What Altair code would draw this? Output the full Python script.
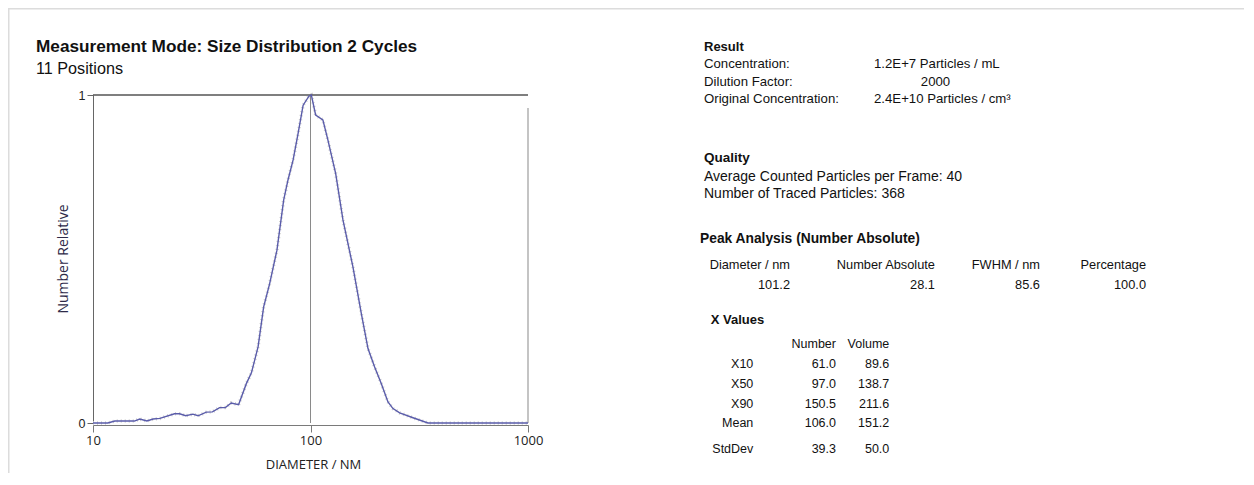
import altair as alt
import pandas as pd

# ---- data ----
diameter_nm = [10.0, 11.7, 12.6, 15.5, 16.4, 17.7, 18.9, 20.3, 23.7, 25.0, 26.7, 28.8, 30.4,
               33.2, 35.4, 38.2, 40.6, 43.2, 46.7, 50.7, 53.5, 57.4, 60.9, 64.9, 70.1, 75.3,
               78.8, 83.2, 87.7, 92.5, 98.5, 100.9, 105.6, 114.0, 120.2, 130.5, 141.0, 156.7,
               171.2, 183.8, 197.2, 211.7, 227.1, 239.5, 257.0, 296.0, 346.6, 1000.0]
number_relative = [0.0, 0.0, 0.006, 0.006, 0.012, 0.006, 0.012, 0.014, 0.028, 0.028, 0.022,
                   0.027, 0.022, 0.033, 0.034, 0.047, 0.047, 0.061, 0.056, 0.12, 0.153, 0.232,
                   0.354, 0.425, 0.527, 0.68, 0.741, 0.802, 0.883, 0.969, 0.997, 1.0, 0.939,
                   0.924, 0.863, 0.761, 0.619, 0.476, 0.334, 0.227, 0.171, 0.12, 0.064, 0.044,
                   0.031, 0.016, 0.0, 0.0]
x_ticks = [10, 100, 1000]
y_ticks = [0, 1]

title_text = "Measurement Mode: Size Distribution 2 Cycles"
subtitle_text = "11 Positions"
y_title = "Number Relative"
x_title = "DIAMETER / NM"

result_title = "Result"
result_labels = ["Concentration:", "Dilution Factor:", "Original Concentration:"]
result_values = ["1.2E+7 Particles / mL", "2000", "2.4E+10 Particles / cm³"]
quality_title = "Quality"
quality_lines = ["Average Counted Particles per Frame: 40", "Number of Traced Particles: 368"]
peak_title = "Peak Analysis (Number Absolute)"
peak_headers = ["Diameter / nm", "Number Absolute", "FWHM / nm", "Percentage"]
peak_values = ["101.2", "28.1", "85.6", "100.0"]
xv_title = "X Values"
xv_headers = ["Number", "Volume"]
xv_rows = ["X10", "X50", "X90", "Mean", "StdDev"]
xv_number = ["61.0", "97.0", "150.5", "106.0", "39.3"]
xv_volume = ["89.6", "138.7", "211.6", "151.2", "50.0"]

# ---- layout ----
W, H = 1236, 465
X0, X1 = 85, 520      # plot area x range (view px)
Y0, Y1 = 415, 87      # plot area y range (bottom, top)
SANS = "Liberation Sans"
AXF = "Open Sans"

df = pd.DataFrame({"d": diameter_nm, "v": number_relative})
base = alt.Chart(df)

xscale = alt.Scale(type="log", domain=[10, 1000], range=[X0, X1])
yscale = alt.Scale(domain=[0, 1], range=[Y0, Y1])

xenc = alt.X("d:Q", scale=xscale,
             axis=alt.Axis(values=x_ticks, format="d", offset=-(H - Y0 - 2), tickSize=7,
                           labelPadding=2, domainColor="#7a7a7a", tickColor="#7a7a7a",
                           labelFont=AXF, labelFontSize=13, labelColor="#222", title="",
                           grid=False, labelFlush=False))
yenc = alt.Y("v:Q", scale=yscale,
             axis=alt.Axis(values=y_ticks, format="d", offset=-X0, tickSize=6,
                           labelPadding=2, domainColor="#666", tickColor="#666",
                           labelFont=SANS, labelFontSize=12.5, labelColor="#222", title="",
                           grid=False, labelFlush=False))

halo = base.mark_line(color="#cfcfcf", strokeWidth=3.5, strokeDash=[1, 3]).encode(x=xenc, y=yenc)
line = base.mark_line(color="#5a5caa", strokeWidth=1.4).encode(x=xenc, y=yenc)

one = pd.DataFrame({"k": [0]})
ob = alt.Chart(one)
top_border = ob.mark_rule(color="#555", strokeWidth=1.5).encode(
    x=alt.datum(10), x2=alt.datum(1000), y=alt.datum(1))
mid_rule = ob.mark_rule(color="#8a8a8a", strokeWidth=1).encode(
    x=alt.datum(100), y=alt.datum(0), y2=alt.datum(1))
right_border = ob.mark_rule(color="#b0b0b0", strokeWidth=1.5).encode(
    x=alt.datum(1000), y=alt.datum(0), y2=alt.value(100))
frame_top = ob.mark_rule(color="#dcdcdc", strokeWidth=1.5).encode(
    x=alt.value(0), x2=alt.value(W), y=alt.value(0.75))
frame_left = ob.mark_rule(color="#dcdcdc", strokeWidth=1.5).encode(
    x=alt.value(0.75), y=alt.value(0), y2=alt.value(H))

layers = [frame_top, frame_left, halo, mid_rule, top_border, right_border, line]


def txt(s, x, y, size=11, weight="normal", align="left", font=SANS, color="#111", angle=0,
        baseline="alphabetic"):
    return alt.Chart(pd.DataFrame({"t": [s]})).mark_text(
        align=align, baseline=baseline, fontSize=size, fontWeight=weight, font=font,
        color=color, angle=angle).encode(x=alt.value(x), y=alt.value(y), text="t:N")


layers.append(txt(title_text, 28, 44, size=17.2, weight="bold"))
layers.append(txt(subtitle_text, 28, 66, size=16.2))
layers.append(txt(y_title, 55.5, (Y0 + Y1) / 2, size=14, font=AXF, color="#2e2a48",
                  angle=270, align="center", baseline="middle"))
layers.append(txt(x_title, 305.5, 457, size=13, font=AXF, color="#222", align="center",
                  baseline="middle"))

# Result block
layers.append(txt(result_title, 696, 43, size=13, weight="bold"))
for i, (lab, val) in enumerate(zip(result_labels, result_values)):
    y = 60 + i * 17.7
    layers.append(txt(lab, 696, y, size=13.2))
    if val == "2000":
        layers.append(txt(val, 927.5, y, size=13.2, align="center"))
    else:
        layers.append(txt(val, 866, y, size=13.2))

# Quality block
layers.append(txt(quality_title, 696, 154, size=13.5, weight="bold"))
for i, s in enumerate(quality_lines):
    layers.append(txt(s, 696, 172.7 + i * 17.6, size=14))

# Peak analysis
layers.append(txt(peak_title, 692, 235, size=13.8, weight="bold"))
peak_right = [782, 927, 1032, 1138]
for h, v, xr in zip(peak_headers, peak_values, peak_right):
    layers.append(txt(h, xr, 261, size=12.8, align="right"))
    layers.append(txt(v, xr, 281, size=12.8, align="right"))

# X values
layers.append(txt(xv_title, 702.7, 316, size=13, weight="bold"))
layers.append(txt(xv_headers[0], 828, 340, size=12.5, align="right"))
layers.append(txt(xv_headers[1], 881.3, 340, size=12.5, align="right"))
row_y = [360, 380, 400, 419, 445]
for r, n, v, y in zip(xv_rows, xv_number, xv_volume, row_y):
    layers.append(txt(r, 745.3, y, size=12.5, align="right"))
    layers.append(txt(n, 828, y, size=12.5, align="right"))
    layers.append(txt(v, 881.3, y, size=12.5, align="right"))

chart = alt.layer(*layers).properties(
    width=W, height=H,
    autosize=alt.AutoSizeParams(type="none"),
    padding=0,
).configure_view(stroke=None).configure(background="white")

chart.save("out.html", embed_options={"renderer": "svg", "actions": False})
